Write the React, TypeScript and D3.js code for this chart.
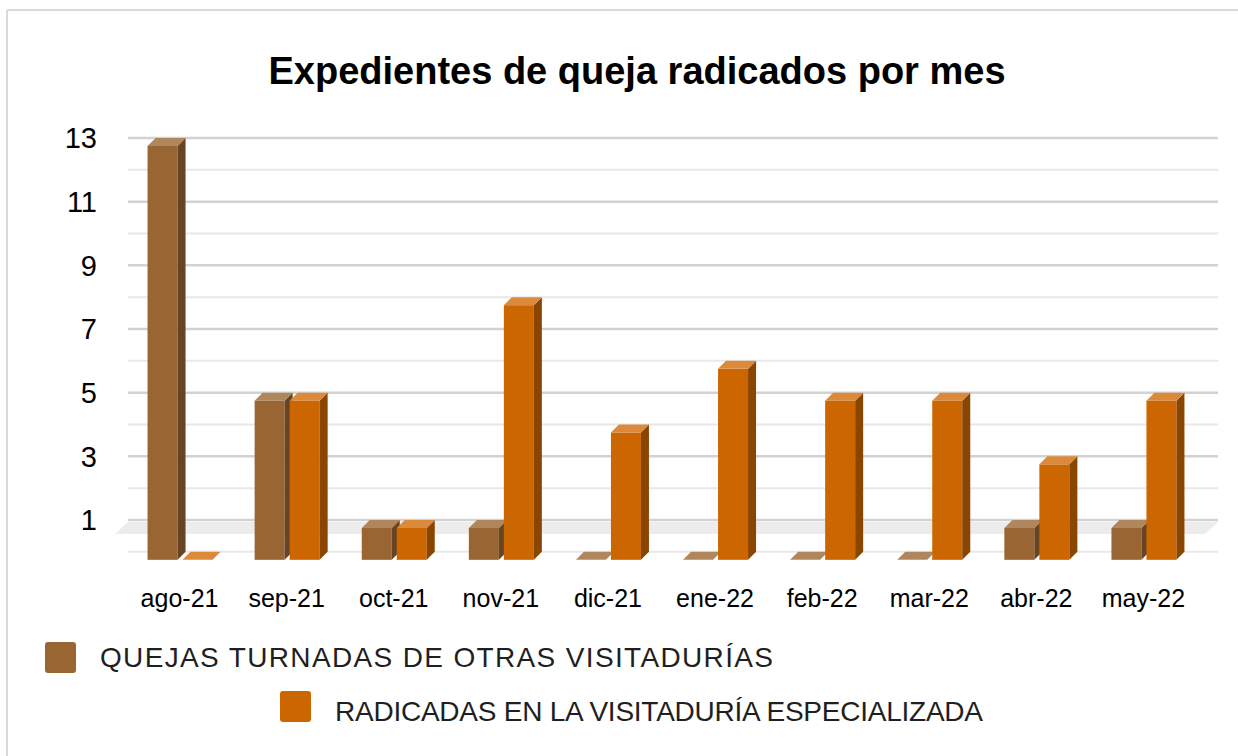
import React from "react";
import * as d3 from "d3";

const categories = ["ago-21", "sep-21", "oct-21", "nov-21", "dic-21", "ene-22", "feb-22", "mar-22", "abr-22", "may-22"];
const quejasTurnadas = [13, 5, 1, 1, 0, 0, 0, 0, 1, 1];
const radicadasEspecializada = [0, 5, 1, 8, 4, 6, 5, 5, 3, 5];
const seriesNames = ["QUEJAS TURNADAS DE OTRAS VISITADURÍAS", "RADICADAS EN LA VISITADURÍA ESPECIALIZADA"];
const yTicks = [1, 3, 5, 7, 9, 11, 13];
const title = "Expedientes de queja radicados por mes";

const W = 1238;
const H = 756;
const DEPTH = 8;
const FONT = "'Liberation Sans', Arial, sans-serif";

const colors = [
  { front: "#996633", side: "#674423", top: "#b0875c" },
  { front: "#cc6600", side: "#8a4500", top: "#db8a3c" },
];

export default function App() {
  // back-wall y scale
  const y = d3.scaleLinear().domain([1, 13]).range([520, 138]);
  const x = d3.scaleBand<string>().domain(categories).range([126, 1197]).paddingInner(0).paddingOuter(0);
  const gridVals = d3.range(0, 14);
  const gx0 = 128;
  const gx1 = 1218;
  const barW = 30;

  const bar = (cx: number, v: number, si: number, key: string) => {
    const c = colors[si];
    const x0 = si === 0 ? cx - 32 : cx + 3;
    const yb = y(v);
    const yf = yb + DEPTH;
    const yb0 = y(0);
    const yf0 = yb0 + DEPTH;
    const top = `${x0},${yf} ${x0 + DEPTH},${yb} ${x0 + barW + DEPTH},${yb} ${x0 + barW},${yf}`;
    if (v === 0) {
      return <polygon key={key} points={top} fill={c.top} />;
    }
    const side = `${x0 + barW},${yf} ${x0 + barW + DEPTH},${yb} ${x0 + barW + DEPTH},${yb0} ${x0 + barW},${yf0}`;
    return (
      <g key={key}>
        <rect x={x0} y={yf} width={barW} height={yf0 - yf} fill={c.front} />
        <polygon points={side} fill={c.side} />
        <polygon points={top} fill={c.top} />
      </g>
    );
  };

  const floorTop = y(1) + 2;
  const floorBot = y(1) + 14;

  return (
    <svg width={W} height={H} style={{ position: "absolute", left: 0, top: 0, background: "#fff" }} fontFamily={FONT}>
      <rect x={0} y={0} width={W} height={H} fill="#fff" />
      {/* border */}
      <line x1={7} y1={10} x2={W} y2={10} stroke="#d9d9d9" strokeWidth={2} />
      <line x1={7} y1={10} x2={7} y2={H} stroke="#d9d9d9" strokeWidth={2} />

      <text x={637} y={84} textAnchor="middle" fontSize={38} fontWeight="bold" fill="#000">
        {title}
      </text>

      {/* gridlines */}
      {gridVals.map((v) => (
        <line
          key={"g" + v}
          x1={gx0}
          x2={gx1}
          y1={y(v)}
          y2={y(v)}
          stroke={v % 2 === 1 ? "#d2d2d2" : "#e8e8e8"}
          strokeWidth={v % 2 === 1 ? 2.5 : 2}
        />
      ))}
      {/* floor band */}
      <polygon
        points={`${gx0},${floorTop} ${gx1},${floorTop} ${gx1 - 13},${floorBot} ${gx0 - 13},${floorBot}`}
        fill="#ececec"
      />

      {/* y tick labels */}
      {yTicks.map((t) => (
        <text key={"t" + t} x={97} y={y(t)} dy="0.36em" textAnchor="end" fontSize={29} fill="#000">
          {t}
        </text>
      ))}

      {/* bars */}
      {categories.map((cat, i) => {
        const cx = (x(cat) as number) + x.bandwidth() / 2;
        return (
          <g key={cat}>
            {bar(cx, quejasTurnadas[i], 0, cat + "a")}
            {bar(cx, radicadasEspecializada[i], 1, cat + "b")}
          </g>
        );
      })}

      {/* x labels */}
      {categories.map((cat) => {
        const cx = (x(cat) as number) + x.bandwidth() / 2;
        return (
          <text key={"l" + cat} x={cx} y={607} textAnchor="middle" fontSize={25} fill="#000">
            {cat}
          </text>
        );
      })}

      {/* legend */}
      <rect x={45} y={642} width={31} height={31} rx={3} fill={colors[0].front} />
      <text x={100} y={667} fontSize={28} fill="#1f1f1f" textLength={673} lengthAdjust="spacing">
        {seriesNames[0]}
      </text>
      <rect x={280} y={691} width={31} height={31} rx={3} fill={colors[1].front} />
      <text x={335} y={721} fontSize={28} fill="#1f1f1f" textLength={648} lengthAdjust="spacing">
        {seriesNames[1]}
      </text>
    </svg>
  );
}
